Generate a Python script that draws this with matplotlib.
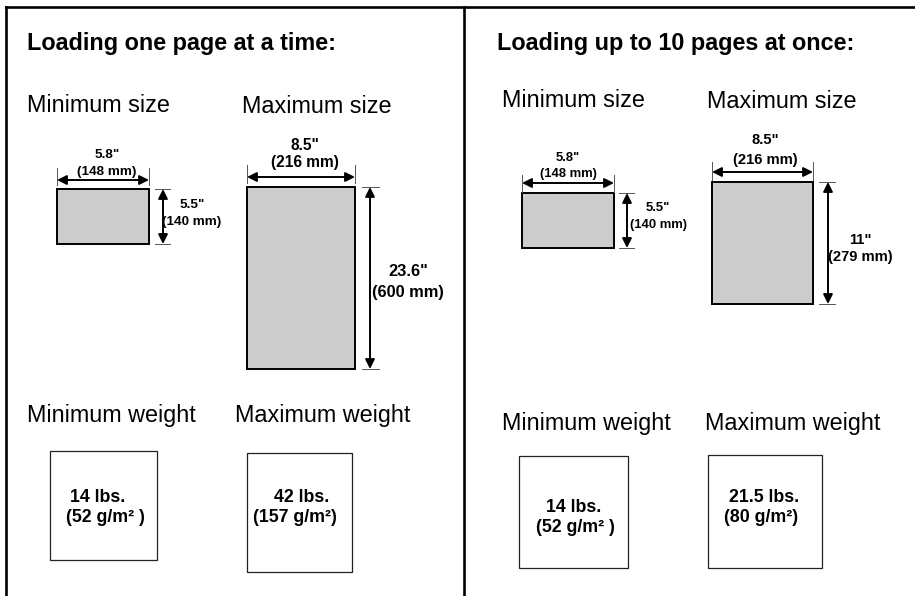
import matplotlib.pyplot as plt
from matplotlib.patches import Rectangle

plt.rcParams['font.family'] = ['Liberation Sans', 'DejaVu Sans']

# Text content
titles = ["Loading one page at a time:", "Loading up to 10 pages at once:"]
size_heads = ["Minimum size", "Maximum size"]
weight_heads = ["Minimum weight", "Maximum weight"]

# paper sizes: width inch, width mm, height inch, height mm
min_sizes = [('5.8"', "(148 mm)", '5.5"', "(140 mm)"),
             ('5.8"', "(148 mm)", '5.5"', "(140 mm)")]
max_sizes = [('8.5"', "(216 mm)", '23.6"', "(600 mm)"),
             ('8.5"', "(216 mm)", '11"', "(279 mm)")]

# paper weights
min_weights = [("14 lbs.", "(52 g/m\u00b2 )"), ("14 lbs.", "(52 g/m\u00b2 )")]
max_weights = [("42 lbs.", "(157 g/m\u00b2)"), ("21.5 lbs.", "(80 g/m\u00b2)")]

# layout in pixels for each panel (schematic drawing, not to scale)
layout = [
    dict(title=(27, 50), sizes=(27, 112, 242, 113), weights=(27, 235, 422),
         min_rect=(57, 189, 149, 244), min_w=(180, 168, 185, 107, 155, 172, 9.7),
         min_h=(163, 155, 170, 192, 205, 222, 9.7),
         max_rect=(247, 187, 355, 369), max_w=(177, 165, 183, 305, 145, 163, 11.2),
         max_h=(370, 362, 379, 408, 272, 292, 11.8),
         min_box=(50, 451, 157, 560), min_txt=((98, 498), (105, 517)),
         max_box=(247, 453, 352, 572), max_txt=((302, 498), (295, 517))),
    dict(title=(497, 50), sizes=(502, 107, 707, 108), weights=(502, 705, 430),
         min_rect=(522, 193, 614, 248), min_w=(183, 175, 192, 568, 158, 174, 9.4),
         min_h=(627, 619, 634, 658, 208, 225, 9.4),
         max_rect=(712, 182, 813, 304), max_w=(172, 162, 180, 765, 140, 160, 10.6),
         max_h=(828, 819, 835, 860, 240, 257, 10.6),
         min_box=(519, 456, 628, 568), min_txt=((574, 507), (575, 527)),
         max_box=(708, 455, 822, 568), max_txt=((764, 497), (761, 518))),
]

fig = plt.figure(figsize=(9.15, 5.96), dpi=100)
ax = fig.add_axes([0, 0, 1, 1])
ax.set_xlim(0, 915)
ax.set_ylim(596, 0)
ax.axis('off')

# frame
ax.plot([6, 915], [7, 7], color='black', lw=1.9, solid_capstyle='projecting')
ax.plot([6, 6], [7, 596], color='black', lw=1.9)
ax.plot([464, 464], [7, 596], color='black', lw=1.9)


def double_arrow(p0, p1):
    ax.annotate('', xy=p1, xytext=p0,
                arrowprops=dict(arrowstyle='<|-|>,head_length=0.8,head_width=0.4',
                                color='black', lw=1.4,
                                mutation_scale=7, shrinkA=0, shrinkB=0))


def sized_sheet(rect, w, h, labels):
    x0, y0, x1, y1 = rect
    ax.add_patch(Rectangle((x0, y0), x1 - x0, y1 - y0, facecolor='#cccccc',
                           edgecolor='black', lw=1.4))
    # width dimension
    ay, t0, t1, lx, ly1, ly2, fs = w
    for x in (x0, x1):
        ax.plot([x, x], [t0, t1], color='#555555', lw=0.7)
    double_arrow((x0, ay), (x1, ay))
    ax.text(lx, ly1, labels[0], ha='center', va='center', fontsize=fs, fontweight='bold')
    ax.text(lx, ly2, labels[1], ha='center', va='center', fontsize=fs, fontweight='bold')
    # height dimension
    ax_, t0, t1, lx, ly1, ly2, fs = h
    for y in (y0, y1):
        ax.plot([t0, t1], [y, y], color='#555555', lw=0.7)
    double_arrow((ax_, y0), (ax_, y1))
    ax.text(lx, ly1, labels[2], ha='center', va='center', fontsize=fs, fontweight='bold')
    ax.text(lx, ly2, labels[3], ha='center', va='center', fontsize=fs, fontweight='bold')


def weight_sheet(box, pos, labels):
    x0, y0, x1, y1 = box
    ax.add_patch(Rectangle((x0, y0), x1 - x0, y1 - y0, facecolor='white',
                           edgecolor='#222222', lw=0.9))
    for (tx, ty), s in zip(pos, labels):
        ax.text(tx, ty, s, ha='center', va='center', fontsize=12.8, fontweight='bold')


for i, lay in enumerate(layout):
    tx, ty = lay['title']
    ax.text(tx, ty, titles[i], fontsize=16.8, fontweight='bold', va='baseline')
    xa, ya, xb, yb = lay['sizes']
    ax.text(xa, ya, size_heads[0], fontsize=16.8, va='baseline')
    ax.text(xb, yb, size_heads[1], fontsize=16.8, va='baseline')
    xa, xb, yb = lay['weights']
    ax.text(xa, yb, weight_heads[0], fontsize=16.8, va='baseline')
    ax.text(xb, yb, weight_heads[1], fontsize=16.8, va='baseline')

    sized_sheet(lay['min_rect'], lay['min_w'], lay['min_h'], min_sizes[i])
    sized_sheet(lay['max_rect'], lay['max_w'], lay['max_h'], max_sizes[i])
    weight_sheet(lay['min_box'], lay['min_txt'], min_weights[i])
    weight_sheet(lay['max_box'], lay['max_txt'], max_weights[i])

fig.savefig('out.png', dpi=100)
